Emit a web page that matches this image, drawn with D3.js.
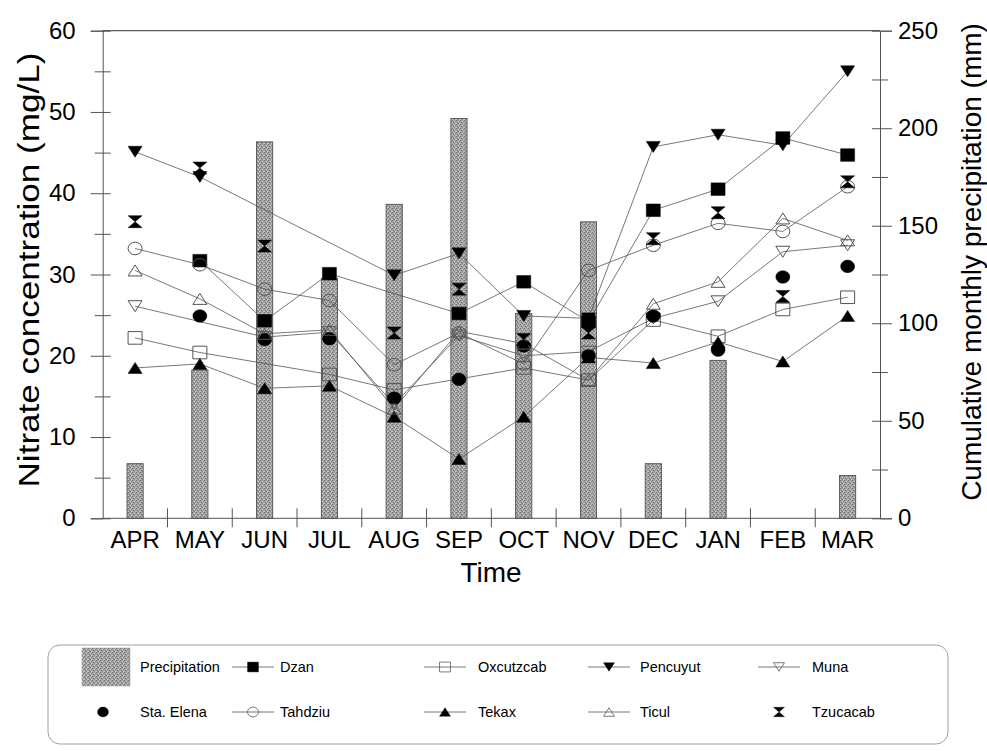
<!DOCTYPE html>
<html><head><meta charset="utf-8">
<script src="https://cdn.jsdelivr.net/npm/d3@7"></script>
<style>
body{margin:0;background:#fff}
svg{display:block}
text{font-family:"Liberation Sans",Arial,sans-serif;fill:#000}
</style>
</head><body>
<svg id="chart" width="987" height="751"></svg>
<script>
// ---------- data ----------
const months = ["APR","MAY","JUN","JUL","AUG","SEP","OCT","NOV","DEC","JAN","FEB","MAR"];
const precipitation = [28, 76, 193, 123, 161, 205, 105, 152, 28, 81, 0, 22];
const dzan       = [null, 31.7, 24.3, 30.1, null, 25.2, 29.1, 24.2, 37.9, 40.5, 46.8, 44.7];
const oxcutzcab  = [22.2, 20.4, null, 17.7, 15.8, null, 18.5, 17.0, 24.4, 22.4, 25.7, 27.2];
const pencuyut   = [45.1, 42.0, null, null, 29.9, 32.6, 24.9, 24.6, 45.7, 47.2, 45.9, 55.0];
const muna       = [26.1, null, 22.3, 22.9, 14.0, 22.5, 20.0, 20.5, 24.6, 26.7, 32.8, 33.6];
const staElena   = [null, 24.9, 22.0, 22.1, 14.8, 17.1, 21.2, 20.0, 24.9, 20.7, 29.7, 31.0];
const tahdziu    = [33.2, 31.2, 28.2, 26.8, 18.9, 22.8, 19.0, 30.5, 33.6, 36.3, 35.3, 40.8];
const tekax      = [18.5, 19.0, 16.0, 16.3, 12.5, 7.3, 12.5, 19.8, 19.1, 21.7, 19.3, 24.9];
const ticul      = [30.5, 27.0, 22.7, 23.2, 13.5, 23.0, 21.5, 17.0, 26.4, 29.1, 36.9, 34.2];
const tzucacab   = [36.5, 43.1, 33.5, null, 22.8, 28.2, 22.0, 22.8, 34.4, 37.6, 27.3, 41.4];
const leftTicks  = [0, 10, 20, 30, 40, 50, 60];
const rightTicks = [0, 50, 100, 150, 200, 250];

const series = [
  {name:"Dzan",      values:dzan,      sym:"square",  fill:true,  line:true},
  {name:"Oxcutzcab", values:oxcutzcab, sym:"square",  fill:false, line:true},
  {name:"Pencuyut",  values:pencuyut,  sym:"tridown", fill:true,  line:true},
  {name:"Muna",      values:muna,      sym:"tridown", fill:false, line:true},
  {name:"Sta. Elena",values:staElena,  sym:"circle",  fill:true,  line:false},
  {name:"Tahdziu",   values:tahdziu,   sym:"circle",  fill:false, line:true},
  {name:"Tekax",     values:tekax,     sym:"triup",   fill:true,  line:true},
  {name:"Ticul",     values:ticul,     sym:"triup",   fill:false, line:true},
  {name:"Tzucacab",  values:tzucacab,  sym:"bowtie",  fill:true,  line:false}
];

// ---------- layout ----------
const svg = d3.select("#chart");
const FONT = '"Liberation Sans",Arial,sans-serif';
const X0 = 102.7, X1 = 880, Y0 = 518.3, Y1 = 30.7;
const x = d3.scaleBand().domain(months).range([X0, X1]).padding(0);
const cx = m => x(m) + x.bandwidth()/2;
const yL = d3.scaleLinear().domain([0, 60]).range([Y0, Y1]);
const yR = d3.scaleLinear().domain([0, 250]).range([Y0, Y1]);

// stipple pattern for bars
const defs = svg.append("defs");
const pat = defs.append("pattern").attr("id","stip").attr("patternUnits","userSpaceOnUse")
  .attr("width",4).attr("height",4);
pat.append("rect").attr("width",4).attr("height",4).attr("fill","#a6a6a6");
[[0,0,"#6e6e6e"],[2,1,"#d0d0d0"],[1,2,"#707070"],[3,3,"#c8c8c8"],[3,1,"#888"],[0,3,"#bdbdbd"],[2,3,"#7a7a7a"]]
  .forEach(([a,b,c]) => pat.append("rect").attr("x",a).attr("y",b).attr("width",1).attr("height",1).attr("fill",c));

// bars
const barW = x.bandwidth()*0.25;
svg.append("g").selectAll("rect")
  .data(months.map((m,i)=>({m, v:precipitation[i]})).filter(d=>d.v>0))
  .join("rect")
  .attr("x", d => cx(d.m) - barW/2)
  .attr("y", d => yR(d.v))
  .attr("width", barW)
  .attr("height", d => Y0 - yR(d.v))
  .attr("fill","url(#stip)")
  .attr("stroke","#444").attr("stroke-width",0.8);

// frame (top + bottom)
svg.append("line").attr("x1",X0).attr("x2",X1).attr("y1",Y1).attr("y2",Y1).attr("stroke","#333").attr("stroke-width",1);
svg.append("line").attr("x1",X0).attr("x2",X1).attr("y1",Y0).attr("y2",Y0).attr("stroke","#555").attr("stroke-width",1);

// left axis
const gL = svg.append("g").attr("transform",`translate(${X0},0)`)
  .call(d3.axisLeft(yL).tickValues(leftTicks).tickSize(12).tickPadding(15));
gL.select(".domain").attr("stroke","#555");
gL.selectAll(".tick line").attr("x1",8).attr("stroke","#555");
gL.selectAll(".tick text").attr("font-size",24).attr("font-family",FONT);
const gLm = svg.append("g").attr("transform",`translate(${X0},0)`)
  .call(d3.axisLeft(yL).tickValues(d3.range(5,60,10)).tickSize(8).tickFormat(""));
gLm.select(".domain").remove();
gLm.selectAll(".tick line").attr("x1",8).attr("stroke","#555");

// right axis
const gR = svg.append("g").attr("transform",`translate(${X1},0)`)
  .call(d3.axisRight(yR).tickValues(rightTicks).tickSize(12).tickPadding(6));
gR.select(".domain").attr("stroke","#555");
gR.selectAll(".tick line").attr("x1",-8).attr("stroke","#555");
gR.selectAll(".tick text").attr("font-size",24).attr("font-family",FONT);
const gRm = svg.append("g").attr("transform",`translate(${X1},0)`)
  .call(d3.axisRight(yR).tickValues(d3.range(25,250,50)).tickSize(8).tickFormat(""));
gRm.select(".domain").remove();
gRm.selectAll(".tick line").attr("x1",-8).attr("stroke","#555");

// bottom axis labels + boundary ticks
const gB = svg.append("g").attr("transform",`translate(0,${Y0})`)
  .call(d3.axisBottom(x).tickSize(0).tickPadding(13));
gB.select(".domain").remove();
gB.selectAll(".tick text").attr("font-size",24).attr("font-family",FONT);
svg.append("g").selectAll("line").data(months.slice(1)).join("line")
  .attr("x1", m => x(m)).attr("x2", m => x(m))
  .attr("y1", Y0-10).attr("y2", Y0+9).attr("stroke","#555");

// axis titles
svg.append("text").attr("transform",`translate(39,270) rotate(-90)`).attr("text-anchor","middle")
  .attr("font-size",30).attr("textLength",435).attr("lengthAdjust","spacingAndGlyphs")
  .text("Nitrate concentration (mg/L)");
svg.append("text").attr("transform",`translate(981,262) rotate(-90)`).attr("text-anchor","middle")
  .attr("font-size",28).text("Cumulative monthly precipitation (mm)");
svg.append("text").attr("x",491).attr("y",582).attr("text-anchor","middle").attr("font-size",28).text("Time");

// symbols
function symPath(type){
  switch(type){
    case "square":  return "M-7,-6.3H7V6.3H-7Z";
    case "tridown": return "M-7,-5.5H7L0,5.5Z";
    case "triup":   return "M-7,5.5H7L0,-5.5Z";
    case "circle":  return "M-7,0A7,6.3 0 1,0 7,0A7,6.3 0 1,0 -7,0Z";
    case "bowtie":  return "M-7,-6H7L0,0ZM-7,6H7L0,0Z";
  }
}
function drawSym(g, type, filled, k){
  const p = g.append("path").attr("d", symPath(type)).attr("transform",`scale(${k})`);
  if (filled) p.attr("fill","#000").attr("stroke","#000").attr("stroke-width",0.5);
  else p.attr("fill","none").attr("stroke","#555").attr("stroke-width",1);
  return p;
}

// lines (connect available points)
const lineGen = d3.line().x(d=>cx(d.m)).y(d=>yL(d.v));
series.forEach(s=>{
  s.pts = months.map((m,i)=>({m, v:s.values[i]})).filter(d=>d.v!=null);
  if (s.line) svg.append("path").datum(s.pts).attr("d", lineGen)
    .attr("fill","none").attr("stroke","#555").attr("stroke-width",0.8);
});
// markers
series.forEach(s=>{
  const g = svg.append("g");
  s.pts.forEach(d=>{
    const gg = g.append("g").attr("transform",`translate(${cx(d.m)},${yL(d.v)})`);
    drawSym(gg, s.sym, s.fill, 1);
  });
});

// legend
const lg = svg.append("g");
lg.append("rect").attr("x",48).attr("y",645).attr("width",900).attr("height",99).attr("rx",12)
  .attr("fill","none").attr("stroke","#888").attr("stroke-width",0.8);
lg.append("rect").attr("x",82).attr("y",648).attr("width",48).attr("height",38)
  .attr("fill","url(#stip)").attr("stroke","#999").attr("stroke-width",0.5);
lg.append("text").attr("x",140).attr("y",667).attr("dominant-baseline","central")
  .attr("font-size",14.5).text("Precipitation");
const R1 = 667, R2 = 712;
const legPos = [
  {s:0, lx:232, tx:280, y:R1},
  {s:1, lx:424, tx:478, y:R1},
  {s:2, lx:588, tx:640, y:R1},
  {s:3, lx:758, tx:812, y:R1},
  {s:4, lx:82,  tx:140, y:R2},
  {s:5, lx:232, tx:280, y:R2},
  {s:6, lx:424, tx:478, y:R2},
  {s:7, lx:588, tx:640, y:R2},
  {s:8, lx:758, tx:812, y:R2}
];
legPos.forEach(p=>{
  const s = series[p.s];
  const g = lg.append("g");
  if (s.line) g.append("line").attr("x1",p.lx).attr("x2",p.lx+42).attr("y1",p.y).attr("y2",p.y)
    .attr("stroke","#555").attr("stroke-width",0.8);
  const gg = g.append("g").attr("transform",`translate(${p.lx+21},${p.y})`);
  drawSym(gg, s.sym, s.fill, 0.78);
  g.append("text").attr("x",p.tx).attr("y",p.y).attr("dominant-baseline","central")
    .attr("font-size",14.5).text(s.name);
});
</script>
</body></html>
